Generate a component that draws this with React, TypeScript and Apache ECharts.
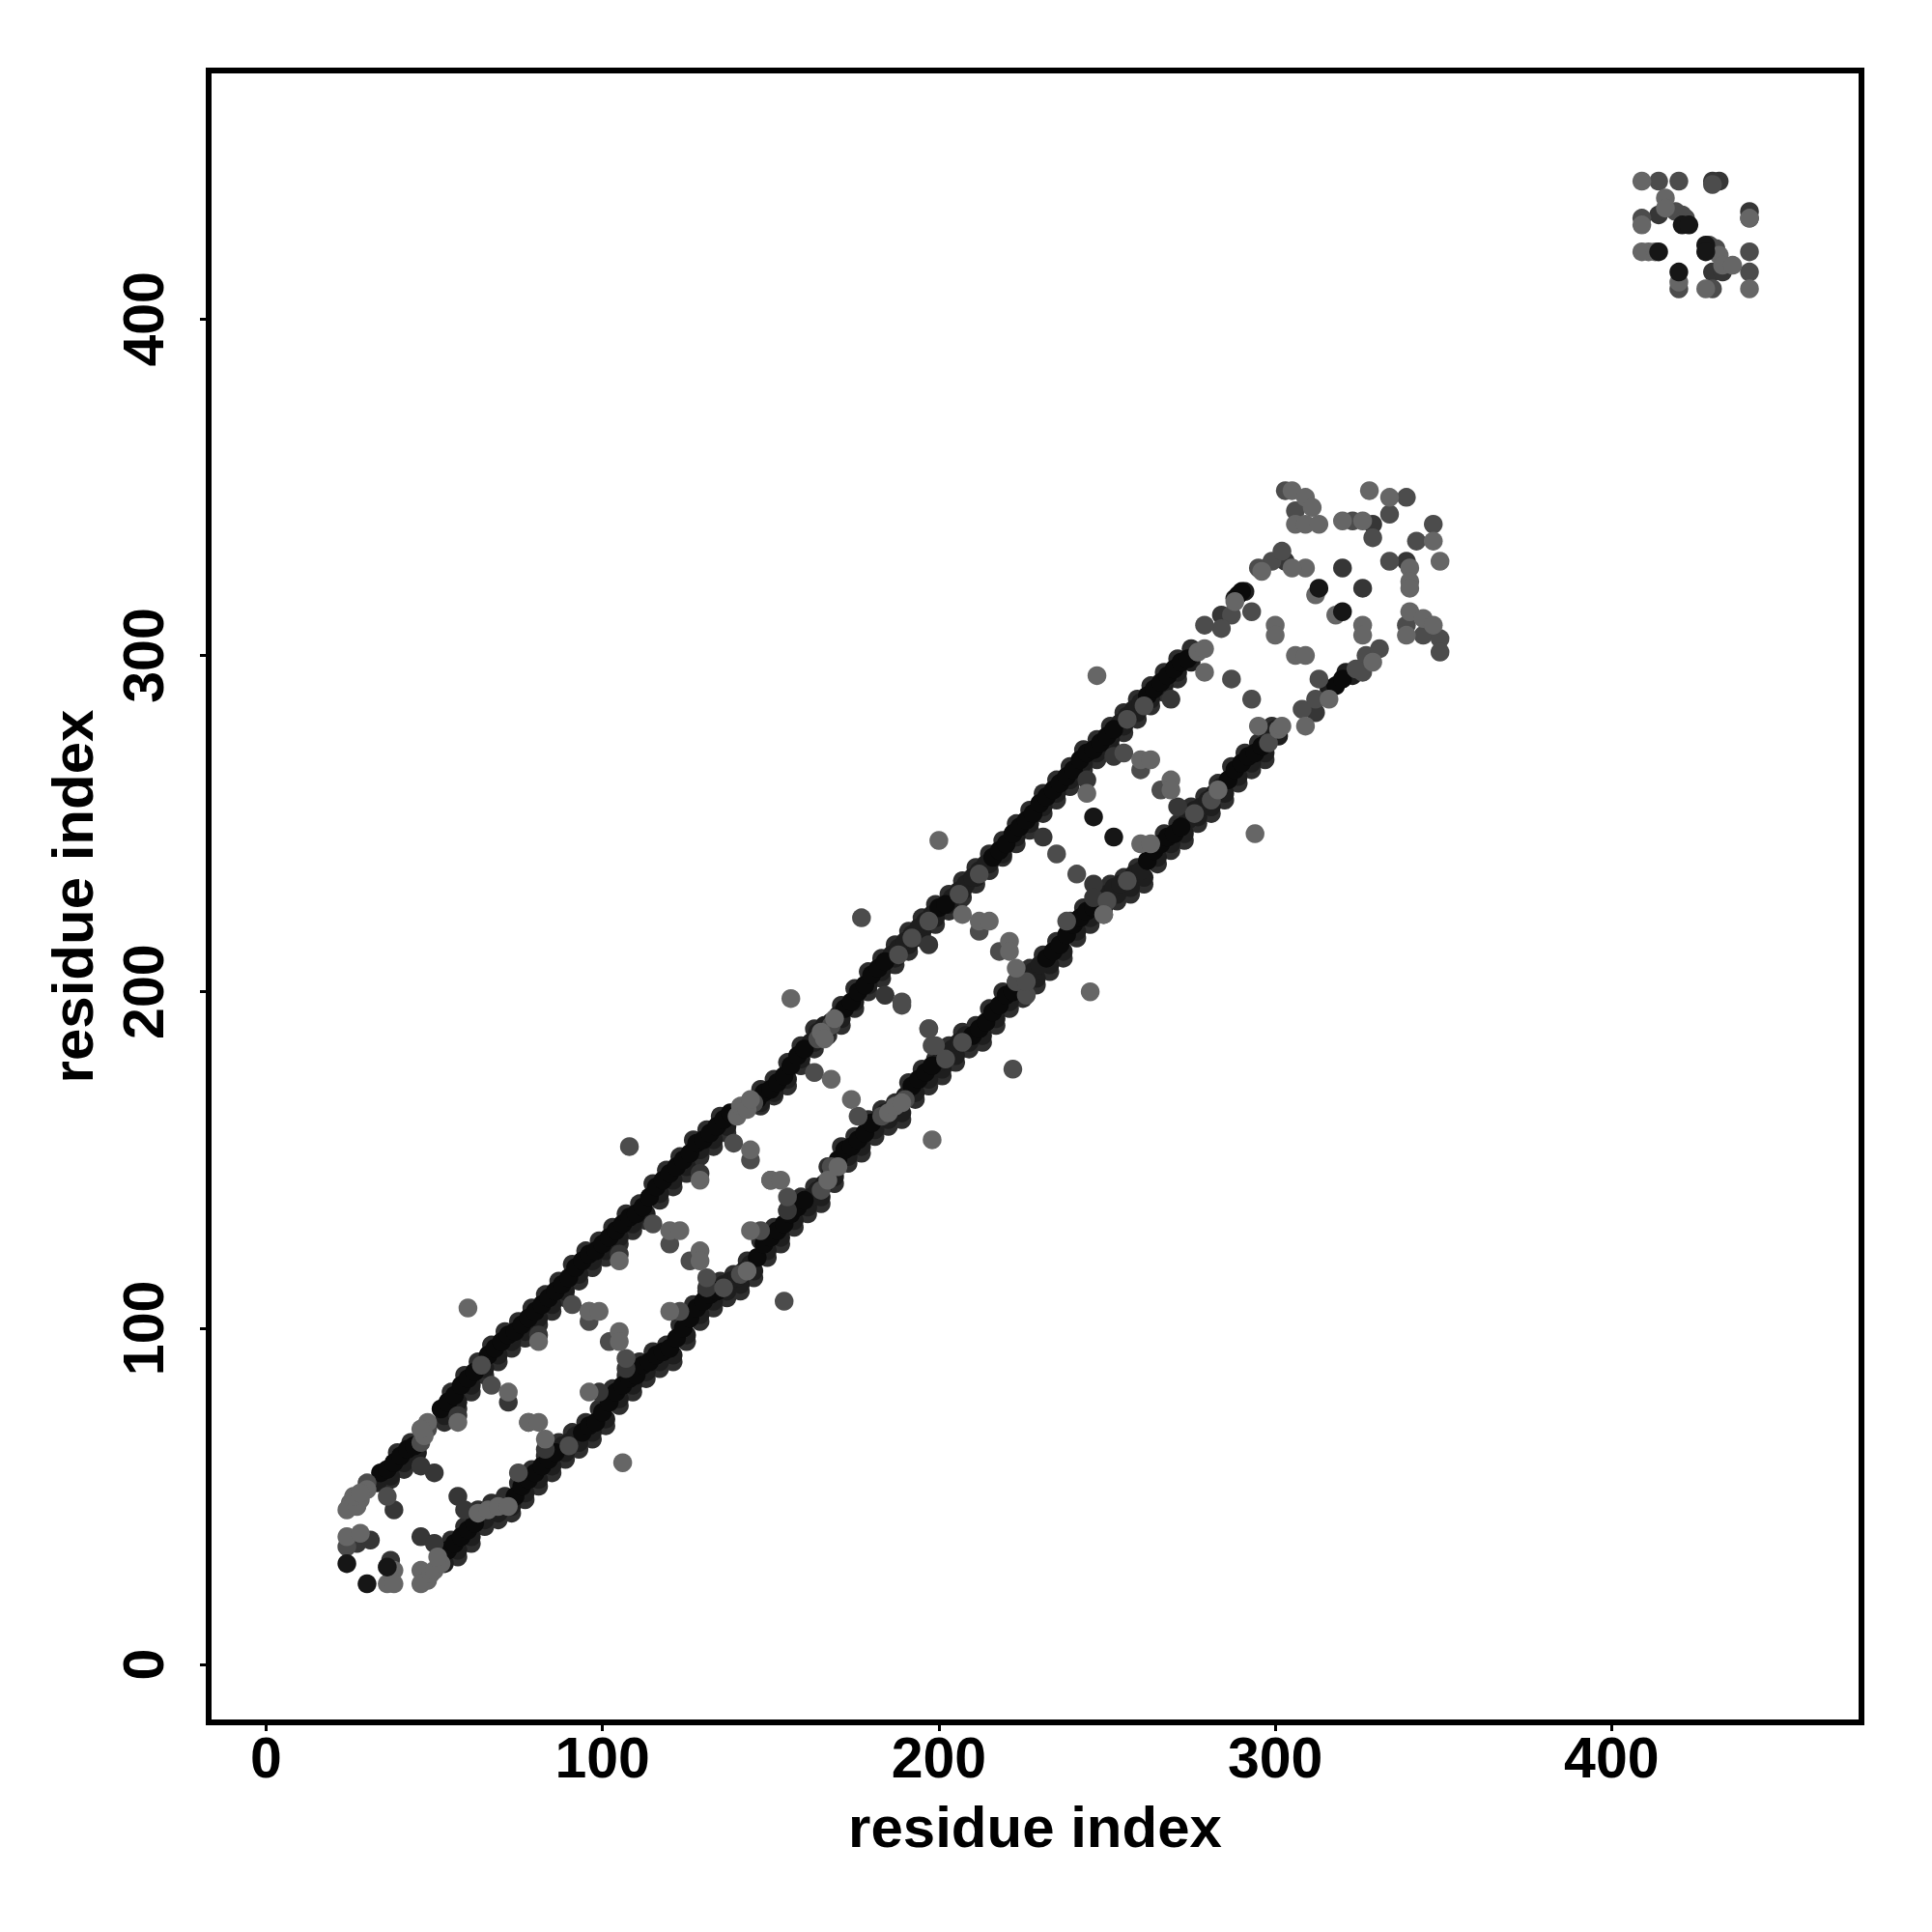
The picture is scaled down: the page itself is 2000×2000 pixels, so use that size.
import React, { useEffect, useRef } from "react";
import * as echarts from "echarts";

const tickValues = [0, 100, 200, 300, 400];
const axisTitle = "residue index";

// Outer rims of the two contact bands
const upperRimTop = [[39,63],[43,66],[55,81],[59,86],[63,90],[67,95],[71,99],[75,102],[79,106],[83,110],[87,114],[91,119],[95,123],[99,126],[103,130],[107,134],[111,137],[115,143],[119,147],[123,151],[127,156],[131,159],[135,163],[147,171],[151,174],[155,179],[159,184],[163,189],[171,196],[175,201],[179,206],[183,210],[187,214],[191,218],[195,222],[199,226],[203,229],[207,233],[211,237],[215,241],[219,245],[223,250],[227,254],[231,259],[235,263],[239,267],[243,272],[247,275],[251,279],[255,283],[259,287],[263,291],[267,295],[271,299],[275,302]];
const upperRimBottom = [[37,55],[41,58],[53,72],[57,76],[61,81],[65,86],[69,90],[73,94],[77,97],[81,101],[85,105],[89,109],[93,114],[97,118],[101,121],[105,125],[109,129],[113,132],[117,138],[121,142],[125,146],[129,151],[133,154],[137,158],[147,166],[151,169],[155,172],[159,178],[163,183],[167,187],[171,190],[175,195],[179,200],[183,204],[187,208],[191,212],[195,216],[199,220],[203,224],[207,228],[211,232],[215,236],[219,240],[223,244],[227,248],[231,253],[235,257],[239,261],[243,266],[247,269],[251,273],[255,277],[259,281],[263,285],[267,289],[271,293]];
const lowerRimTop = [[55,37],[59,41],[63,46],[67,48],[71,50],[75,54],[79,58],[83,62],[87,66],[91,69],[95,72],[99,76],[103,82],[107,86],[111,90],[115,93],[119,95],[123,101],[127,107],[131,111],[135,114],[139,116],[143,120],[147,126],[151,130],[155,135],[159,139],[163,142],[167,148],[171,154],[175,157],[179,162],[183,165],[187,167],[191,173],[195,177],[199,180],[203,184],[207,188],[211,190],[215,195],[219,200],[223,203],[227,207],[231,211],[235,215],[239,221],[243,225],[247,228],[251,232],[255,234],[259,237],[263,243],[267,247],[271,250],[275,255],[279,258],[283,262],[287,267],[291,271],[295,274],[299,279]];
const lowerRimBottom = [[57,32],[61,36],[65,41],[69,43],[73,45],[77,49],[81,53],[85,57],[89,61],[93,64],[97,67],[101,71],[105,77],[109,81],[113,85],[117,88],[121,90],[125,96],[129,102],[133,106],[137,109],[141,111],[145,115],[149,121],[153,125],[157,130],[161,134],[165,137],[169,143],[173,149],[177,152],[181,157],[185,160],[189,162],[193,168],[197,172],[201,175],[205,179],[209,183],[213,185],[217,190],[221,195],[225,198],[229,202],[233,206],[237,210],[241,216],[245,220],[249,223],[253,227],[257,229],[261,232],[265,238],[269,242],[273,245],[277,250],[281,253],[285,257],[289,262],[293,266],[297,269]];

// Continuous strands of the two contact bands
const bandDark = [
  [33,54],[37,56],[41,60],[45,63],[53,74],[57,78],[61,83],[65,88],[69,92],[73,96],[77,99],[81,103],[85,107],[89,111],[93,116],[97,120],[101,123],[105,127],[109,131],[113,134],[117,140],[121,144],[125,148],[129,153],[133,156],[137,160],[147,167],[151,170],[155,174],[159,180],[163,185],[167,189],[171,192],[175,197],[179,202],[183,206],[187,210],[191,214],[195,218],[199,222],[203,226],[207,230],[211,234],[215,238],[219,241],[223,246],[227,250],[231,255],[235,259],[239,263],[243,268],[247,271],[251,275],[255,279],[259,283],[263,287],[267,291],[271,295],[275,298],
  [162,185],[164,188],[166,190],[168,191],[170,193],[186,211],[188,213],[190,215],[192,217],[194,219],[196,221],[198,223],[204,228],[206,230],[208,232],[210,234],[212,236],[214,238],[254,280],[256,282],[258,284],[260,286],
  [53,30],[57,34],[61,38],[65,43],[69,45],[73,47],[77,51],[81,55],[85,59],[89,63],[93,66],[97,69],[101,73],[105,79],[109,83],[113,87],[117,90],[121,92],[125,98],[129,104],[133,108],[137,111],[141,113],[145,117],[149,123],[153,127],[157,132],[161,136],[165,139],[169,145],[173,151],[177,154],[181,159],[185,162],[189,164],[193,170],[197,174],[201,177],[205,181],[209,185],[213,187],[217,192],[221,197],[225,200],[229,204],[233,208],[237,212],[241,218],[245,222],[249,225],[253,229],[257,231],[261,234],[265,240],[269,244],[273,247],[277,252],[281,255],[285,259],[289,264],[293,268],[297,271],[301,276],
  [64,45],[66,46],[88,65],[90,66],[92,68],[136,113],[138,114],[140,115],[142,117],[144,119],[162,139],[164,141],[166,143],[168,147],[182,162],[184,164],[186,165],[188,166],[190,169],[200,179],[202,181],[204,183],[206,185],[208,187],[224,202],[226,204],[228,206],[230,208],[248,227],[250,229],[252,231],[254,232],[256,233],[258,235],[260,236],[274,251],[276,254],[278,255],[280,257],[282,259],[284,261],[298,275],[300,278],
  [316,290],[321,295],[323,294],[291,319],[288,317],
];
const bandBlack = [
  [34,57],[36,58],[38,60],[40,62],[42,64],[44,65],[52,76],[54,78],[56,80],[58,83],[60,85],[62,87],[66,92],[68,94],[70,96],[72,98],[74,99],[76,101],[78,103],[80,105],[82,107],[84,109],[86,111],[88,113],[90,115],[92,118],[94,120],[96,122],[98,123],[100,125],[102,127],[104,129],[106,131],[108,133],[110,134],[112,136],[114,139],[116,142],[118,144],[120,146],[122,148],[124,150],[126,152],[128,155],[130,156],[132,158],[134,160],[136,162],[138,164],[146,168],[148,170],[150,171],[152,173],[154,175],[156,178],[158,181],[160,183],[172,195],[174,197],[176,200],[178,202],[180,205],[182,207],[184,209],[200,225],[202,226],[216,240],[218,242],[220,244],[222,247],[224,249],[226,251],[228,253],[230,256],[232,258],[234,260],[236,262],[238,264],[240,266],[242,269],[244,271],[246,272],[248,274],[250,276],[252,278],[262,288],[264,290],[266,292],[268,294],[270,296],[272,298],[274,299],
  [54,34],[56,36],[58,38],[60,40],[62,42],[74,50],[76,53],[78,55],[80,57],[82,59],[84,61],[86,63],[94,69],[96,71],[98,72],[100,75],[102,78],[104,81],[106,83],[108,85],[110,86],[112,89],[114,90],[116,92],[118,93],[120,94],[122,97],[124,100],[126,103],[128,106],[130,108],[132,110],[134,111],[146,121],[148,125],[150,127],[152,129],[154,131],[156,134],[158,136],[160,138],[170,150],[172,153],[174,154],[176,156],[178,158],[180,161],[192,172],[194,174],[196,176],[198,178],[210,187],[212,189],[214,191],[216,194],[218,196],[220,199],[222,200],[232,210],[234,212],[236,214],[238,217],[240,220],[242,222],[244,224],[246,225],[262,239],[264,242],[266,244],[268,246],[270,247],[272,249],[286,263],[288,266],[290,268],[292,270],[294,271],[296,273],
  [318,291],[320,293],[289,318],[290,319],
];

// Isolated contacts and lighter residues, darkest first
const darkPoints = [
  [50,57],[46,59],[38,46],[57,50],[59,46],[46,38],[50,36],[27,36],[31,37],[37,31],[78,72],[83,64],[81,98],[72,78],[57,74],[99,81],[107,88],[105,122],[131,112],[129,146],[155,135],[197,214],[184,199],[246,232],[246,228],[231,246],[244,263],[252,270],[269,287],[271,255],
  [414,431],[432,441],[430,441],[441,432],[441,430],[430,414],[433,414],[320,326],[326,320],[339,328],[284,312],[312,283],[303,328],[329,339],
];
const midPoints = [
  [24,35],[30,54],[48,70],[36,50],[91,107],[96,102],[96,105],[102,96],[67,83],[75,57],[107,91],[144,150],[150,144],[155,139],[139,155],[115,131],[120,125],[126,120],[131,115],[123,105],[147,129],[163,176],[176,163],[198,184],[197,189],[189,196],[108,154],[154,108],[177,222],[189,197],[197,189],[199,184],[222,177],[235,241],[241,235],[212,218],[218,212],[238,221],[260,266],[266,260],[255,271],[287,293],[293,287],[313,293],[308,284],[312,287],[226,199],[223,203],
  [414,441],[420,441],[430,440],[409,430],[419,432],[421,431],[422,430],[429,422],[431,421],[441,420],[441,414],[420,409],[430,409],[342,334],[347,339],[339,347],[334,342],[334,328],[329,335],[339,309],[344,306],[349,305],[349,301],[306,343],[303,349],[323,340],[287,312],[293,313],[284,308],[279,309],[327,300],[331,302],[326,295],
  [64,89],[46,66],[142,166],[145,167],[164,186],[168,190],[188,211],[192,216],[197,221],[206,229],[212,235],[256,281],[261,285],[299,328],[302,331],[295,326],[90,65],[136,112],[141,116],[165,141],[168,148],[183,163],[190,168],[202,180],[207,185],[226,203],[250,227],[256,233],[276,253],[281,257],[298,274],[324,296],
];
const lightPoints = [
  [25,48],[24,46],[28,49],[27,47],[26,50],[30,52],[28,51],[47,68],[48,72],[46,70],[24,38],[28,39],[38,28],[36,24],[38,24],[46,28],[48,25],[46,24],[49,27],[50,28],[52,30],[51,32],[63,45],[66,46],[69,47],[72,47],[60,106],[106,60],[96,105],[99,105],[81,96],[72,81],[78,72],[81,72],[83,67],[57,72],[96,81],[105,99],[105,96],[120,105],[105,120],[144,129],[120,129],[123,129],[129,123],[129,120],[129,144],[144,153],[150,144],[153,144],[168,174],[174,168],[198,156],[156,198],[200,245],[245,200],[207,223],[212,221],[215,221],[221,215],[221,212],[223,207],[249,223],[244,259],[260,269],[263,269],[269,263],[269,260],[260,244],[263,244],[279,295],[300,309],[300,306],[306,300],[309,300],[295,279],[309,279],[247,294],[294,247],[312,318],[318,312],[326,309],[326,306],[316,287],
  [409,441],[409,428],[416,436],[416,433],[411,420],[409,420],[413,420],[432,419],[433,416],[436,416],[420,411],[428,409],[441,409],[441,430],[328,349],[334,347],[347,334],[349,328],[340,326],[340,322],[340,320],[340,313],[344,311],[347,309],[339,306],[320,340],[326,340],[305,349],[309,347],[311,344],[306,339],[309,339],[313,339],[309,326],[305,326],[296,325],[288,316],
  [140,163],[141,166],[143,165],[144,168],[165,188],[166,186],[169,192],[277,301],[279,302],[143,117],[167,144],[170,148],[185,164],[187,166],[189,167],[283,260],[301,278],[302,279],[329,298],
];
const blackPoints = [
  [24,30],[30,24],[36,29],[246,252],[252,246],[414,420],[428,422],[428,420],[421,428],[423,428],[420,414],[313,320],[320,313],
];

const layers: [number[][], string][] = [
  [upperRimTop, "#2e2e2e"],
  [upperRimBottom, "#2e2e2e"],
  [lowerRimTop, "#2e2e2e"],
  [lowerRimBottom, "#2e2e2e"],
  [bandDark, "#1e1e1e"],
  [bandBlack, "#0a0a0a"],
  [darkPoints, "#363636"],
  [midPoints, "#4c4c4c"],
  [lightPoints, "#666666"],
  [blackPoints, "#161616"],
];

const FONT = "'Liberation Sans', Arial, sans-serif";

export default function App() {
  const ref = useRef<HTMLDivElement>(null);
  useEffect(() => {
    const chart = echarts.init(ref.current!, undefined, { renderer: "svg" });
    const tickStyle = { show: true, length: 9, customValues: tickValues, lineStyle: { color: "#000", width: 3 } };
    const labelStyle = { fontFamily: FONT, fontWeight: "bold" as const, fontSize: 59, color: "#000" };
    const nameStyle = { fontFamily: FONT, fontWeight: "bold" as const, fontSize: 60, color: "#000" };
    chart.setOption({
      animation: false,
      backgroundColor: "#fff",
      grid: { show: true, left: 216, top: 73, width: 1711, height: 1710, borderColor: "#000", borderWidth: 6, backgroundColor: "transparent" },
      xAxis: {
        type: "value", min: -17.09, max: 474.3,
        axisLine: { show: false, onZero: false }, splitLine: { show: false }, axisTick: tickStyle,
        axisLabel: { ...labelStyle, customValues: tickValues, margin: 7, formatter: (v: number) => String(v) },
        name: axisTitle, nameLocation: "middle", nameGap: 78, nameTextStyle: nameStyle,
      },
      yAxis: {
        type: "value", min: -17.2, max: 473.9,
        axisLine: { show: false, onZero: false }, splitLine: { show: false }, axisTick: tickStyle,
        axisLabel: { ...labelStyle, customValues: tickValues, rotate: 90, margin: 38, formatter: (v: number) => String(v) },
        name: axisTitle, nameLocation: "middle", nameGap: 111, nameTextStyle: nameStyle,
      },
      series: layers.map(([data, color]) => ({
        type: "scatter", data, symbol: "circle", symbolSize: 19.5, silent: true, clip: false,
        itemStyle: { color, opacity: 1 },
      })),
    });
    return () => chart.dispose();
  }, []);
  return <div ref={ref} style={{ position: "absolute", left: 0, top: 0, width: 2000, height: 2000 }} />;
}
